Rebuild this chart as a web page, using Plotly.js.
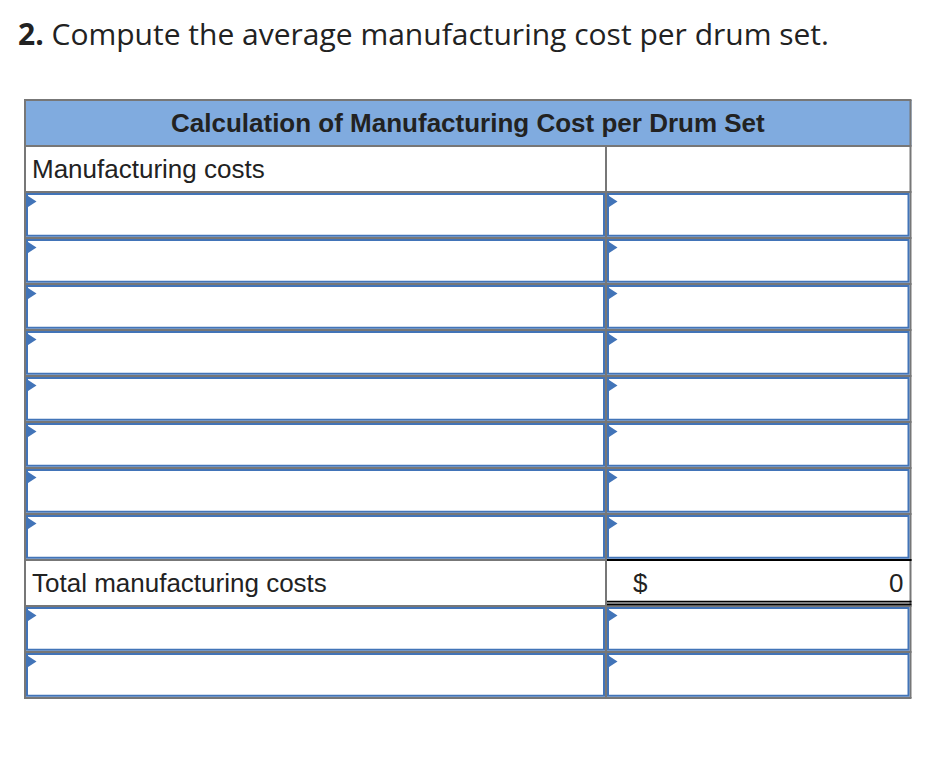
<!DOCTYPE html>
<html>
<head>
<meta charset="utf-8">
<script src="https://cdn.plot.ly/plotly-3.0.1.min.js"></script>
<style>
  html, body { margin: 0; padding: 0; background: #ffffff; }
  #chart { width: 940px; height: 764px; }
</style>
</head>
<body>
<div id="chart"></div>
<script>
// ---- data ----
const questionNumber = "2.";
const questionText = "Compute the average manufacturing cost per drum set.";
const headerTitle = "Calculation of Manufacturing Cost per Drum Set";
const rowLabels = ["Manufacturing costs", "", "", "", "", "", "", "", "", "Total manufacturing costs", "", ""];
const rowKinds = ["label", "input", "input", "input", "input", "input", "input", "input", "input", "total", "input", "input"];
const rowCurrency = ["", "", "", "", "", "", "", "", "", "$", "", ""];
const rowValues = [null, null, null, null, null, null, null, null, null, 0, null, null];

// ---- geometry / styles ----
const W = 940, H = 764;
const TOP = 100, ROW = 46;          // pixel top of table, row pitch
const XL = 25, XM = 606, XR = 910.5; // table left, column divider, right
const GRAY = "#777777", BLUE = "#4274B8", HEAD = "#80ABDF", TXT = "#222222";
const px = p => p / ROW;             // pixel offset -> row units
const BODY_FONT = "Liberation Sans, Arial, sans-serif";

const nRows = rowLabels.length + 1;  // + header
const shapes = [];
const annotations = [];

// header fill
shapes.push({type: "rect", xref: "x", yref: "y", x0: XL, x1: XR + 1, y0: 0, y1: 1,
  fillcolor: HEAD, line: {width: 0}, layer: "below"});

// horizontal grid lines
for (let r = 0; r <= nRows; r++) {
  shapes.push({type: "line", xref: "x", yref: "y", x0: XL - 1, x1: XR + 1, y0: r, y1: r,
    line: {color: GRAY, width: 2}});
}
// outer verticals + divider
shapes.push({type: "line", xref: "x", yref: "y", x0: XL, x1: XL, y0: 0, y1: nRows, line: {color: GRAY, width: 2}});
shapes.push({type: "line", xref: "x", yref: "y", x0: XR, x1: XR, y0: 0, y1: nRows, line: {color: GRAY, width: 2}});
shapes.push({type: "line", xref: "x", yref: "y", x0: XM, x1: XM, y0: 1, y1: nRows, line: {color: GRAY, width: 2}});

const cols = [[XL + 2, XM - 2], [XM + 2, XR - 2]];

rowKinds.forEach((kind, i) => {
  const r = i + 1;
  if (kind === "input") {
    cols.forEach(([a, b]) => {
      shapes.push({type: "rect", xref: "x", yref: "y", x0: a, x1: b,
        y0: r + px(2), y1: r + 1 - px(2.3), line: {color: BLUE, width: 2}});
      const ty0 = r + px(3), ty1 = r + px(16), tym = r + px(9.5);
      const tx0 = a - 0.5, tx1 = a + 9.5;
      shapes.push({type: "path", xref: "x", yref: "y",
        path: `M${tx0},${ty0} L${tx1},${tym} L${tx0},${ty1} Z`,
        fillcolor: BLUE, line: {width: 0}});
    });
  }
  if (kind === "total") {
    shapes.push({type: "line", xref: "x", yref: "y", x0: XM + 1, x1: XR + 1, y0: r, y1: r,
      line: {color: "#000000", width: 2}});
    shapes.push({type: "line", xref: "x", yref: "y", x0: XM + 1, x1: XR + 1,
      y0: r + 1 - px(4.4), y1: r + 1 - px(4.4), line: {color: "#000000", width: 1.6}});
    shapes.push({type: "line", xref: "x", yref: "y", x0: XM + 1, x1: XR + 1,
      y0: r + 1 - px(1.6), y1: r + 1 - px(1.6), line: {color: "#000000", width: 1.6}});
  }
  if (rowLabels[i]) {
    annotations.push({xref: "x", yref: "y", x: XL + 5, y: r + 0.5, xanchor: "left", yanchor: "middle",
      text: rowLabels[i], showarrow: false,
      font: {family: BODY_FONT, size: 26, color: TXT}});
  }
  if (rowCurrency[i]) {
    annotations.push({xref: "x", yref: "y", x: XM + 25, y: r + 0.5, xanchor: "left", yanchor: "middle",
      text: rowCurrency[i], showarrow: false,
      font: {family: BODY_FONT, size: 26, color: TXT}});
  }
  if (rowValues[i] !== null) {
    annotations.push({xref: "x", yref: "y", x: XR - 6, y: r + 0.5, xanchor: "right", yanchor: "middle",
      text: String(rowValues[i]), showarrow: false,
      font: {family: BODY_FONT, size: 26, color: TXT}});
  }
});

// header title
annotations.push({xref: "x", yref: "y", x: (XL + XR) / 2, y: 0.5, xanchor: "center", yanchor: "middle",
  text: "<b>" + headerTitle + "</b>", showarrow: false,
  font: {family: BODY_FONT, size: 26, color: TXT}});

// question title
annotations.push({xref: "x", yref: "y", x: 16, y: px(33 - TOP), xanchor: "left", yanchor: "middle",
  text: "<b>" + questionNumber + "</b> " + questionText, showarrow: false,
  font: {family: "Open Sans, sans-serif", size: 30, color: "#222222"}});

const layout = {
  width: W, height: H,
  margin: {l: 0, r: 0, t: 0, b: 0, pad: 0},
  paper_bgcolor: "#ffffff", plot_bgcolor: "#ffffff",
  showlegend: false,
  xaxis: {range: [0, W], visible: false, fixedrange: true, showgrid: false, zeroline: false},
  yaxis: {range: [px(H - TOP), px(-TOP)], visible: false, fixedrange: true, showgrid: false, zeroline: false},
  shapes: shapes,
  annotations: annotations
};

Plotly.newPlot("chart", [{type: "scatter", x: [], y: [], mode: "markers", hoverinfo: "skip"}], layout,
  {displayModeBar: false, staticPlot: true});
</script>
</body>
</html>
